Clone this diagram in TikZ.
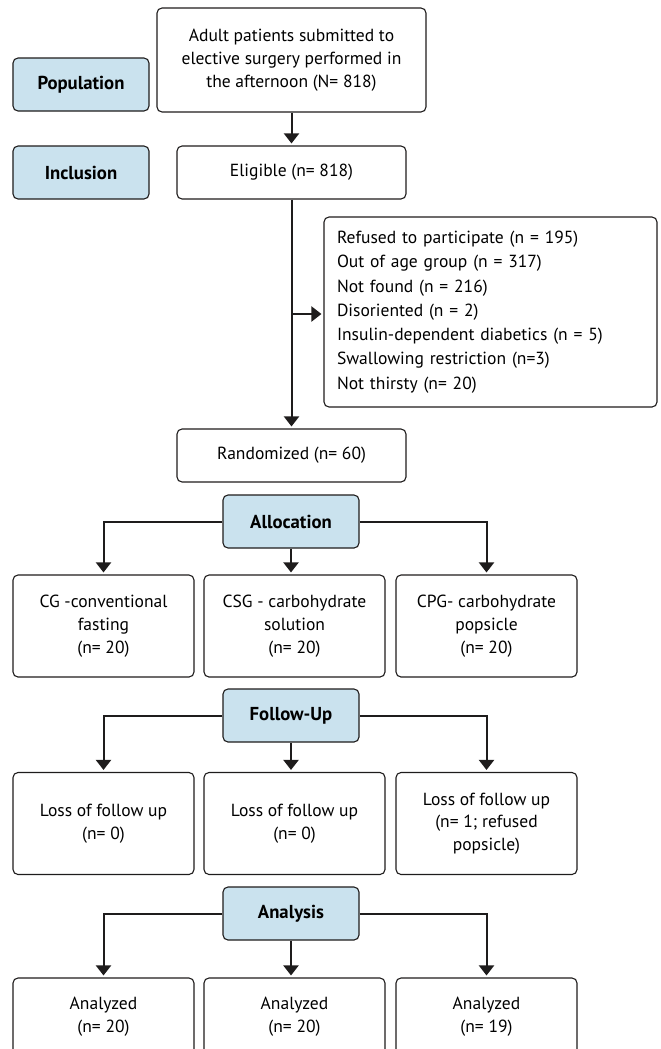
\documentclass[tikz,border=0pt]{standalone}
\usepackage{fontspec}
\setmainfont{PT Sans}
\usetikzlibrary{arrows.meta}
\definecolor{stagecolor}{RGB}{202, 226, 238}
\definecolor{linecolor}{RGB}{30, 28, 28}

\begin{document}
\begin{tikzpicture}[
    x=1bp, y=-1bp,
    box/.style={rectangle, draw=linecolor, line width=1.1bp, rounded corners=5bp, align=center, inner sep=0pt, font=\fontsize{17.6}{22.8}\selectfont},
    stage/.style={box, fill=stagecolor, minimum width=136bp, minimum height=53bp, font=\fontsize{18.8}{23}\selectfont\bfseries},
    groupbox/.style={box, minimum width=181bp, minimum height=102bp},
    arrow/.style={-{Triangle[width=15bp,length=10bp]}, line width=2bp, draw=linecolor, shorten >=2bp}
]
\clip (0,0) rectangle (661,1049);

% Stage labels
\node[stage] (pop) at (81,84.5) {Population};
\node[stage] (incl) at (81,172.5) {Inclusion};
\node[stage] (alloc) at (291,521.5) {Allocation};
\node[stage] (follow) at (291,715.5) {Follow-Up};
\node[stage] (anal) at (291,913.5) {Analysis};

% Enrolment
\node[box, minimum width=269bp, minimum height=104bp] (adult) at (291.5,60) {Adult patients submitted to\\elective surgery performed in\\the afternoon (N= 818)};
\node[box, minimum width=229bp, minimum height=53bp] (elig) at (291.5,172.5) {Eligible (n= 818)};
\node[box, minimum width=333bp, minimum height=190bp, text width=307bp, align=left, font=\fontsize{17.6}{24.4}\selectfont] (excl) at (490.5,312) {Refused to participate (n = 195)\\Out of age group (n = 317)\\Not found (n = 216)\\Disoriented (n = 2)\\Insulin-dependent diabetics (n = 5)\\Swallowing restriction (n=3)\\Not thirsty (n= 20)};
\node[box, minimum width=229bp, minimum height=53bp] (rand) at (291.5,455.5) {Randomized (n= 60)};

% Groups
\node[groupbox] (cg) at (103.5,626) {CG -conventional\\fasting\\(n= 20)};
\node[groupbox] (csg) at (294.5,626) {CSG - carbohydrate\\solution\\(n= 20)};
\node[groupbox] (cpg) at (486.5,626) {CPG- carbohydrate\\popsicle\\(n= 20)};

% Follow-up
\node[groupbox] (cgloss) at (103.5,823.5) {Loss of follow up\\(n= 0)};
\node[groupbox] (csgloss) at (294.5,823.5) {Loss of follow up\\(n= 0)};
\node[groupbox] (cpgloss) at (486.5,823.5) {Loss of follow up\\(n= 1; refused\\popsicle)};

% Analysis (cut at the bottom)
\node[groupbox, minimum height=78bp] (cgan) at (103.5,1017) {Analyzed\\(n= 20)};
\node[groupbox, minimum height=78bp] (csgan) at (294.5,1017) {Analyzed\\(n= 20)};
\node[groupbox, minimum height=78bp] (cpgan) at (486.5,1017) {Analyzed\\(n= 19)};

% Main flow arrows
\draw[arrow] (adult) -- (elig);
\draw[arrow] (elig) -- (rand);
\coordinate (split) at (291.5,314);
\draw[arrow] (split) -- (split -| excl.west);

% Branch arrows
\draw[arrow] (alloc.west) -| (cg);
\draw[arrow] (alloc) -- (alloc |- csg.north);
\draw[arrow] (alloc.east) -| (cpg);

\draw[arrow] (follow.west) -| (cgloss);
\draw[arrow] (follow) -- (follow |- csgloss.north);
\draw[arrow] (follow.east) -| (cpgloss);

\draw[arrow] (anal.west) -| (cgan);
\draw[arrow] (anal) -- (anal |- csgan.north);
\draw[arrow] (anal.east) -| (cpgan);

\end{tikzpicture}
\end{document}
